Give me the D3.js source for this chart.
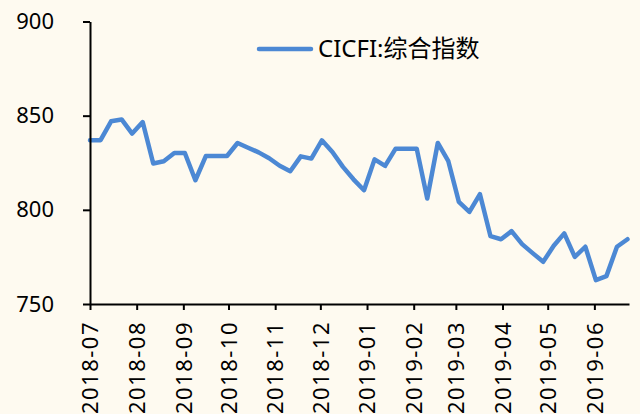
<!DOCTYPE html>
<html>
<head>
<meta charset="utf-8">
<script src="https://cdn.jsdelivr.net/npm/d3@7"></script>
<style>
html,body{margin:0;padding:0;background:#FEFAF0;}
svg{display:block;}
text{font-family:"Noto Sans","Noto Sans CJK SC",sans-serif;fill:#000;}
</style>
</head>
<body>
<svg id="chart" width="640" height="414"></svg>
<script>
const seriesName = "CICFI:综合指数";
const startDate = "2018-07-06";
const values = [837, 837, 847, 848, 840.5, 846.6, 824.6, 825.8, 830.2, 830.2,
  815.7, 828.6, 828.6, 828.6, 835.5, 833, 830.5, 827.4, 823.4, 820.5,
  828.4, 827.2, 836.9, 830.7, 822.8, 816.2, 810.4, 826.8, 823.3, 832.5,
  832.5, 832.5, 806, 835.5, 825.8, 804.2, 798.9, 808.3, 786, 784.4,
  788.7, 781.8, 777, 772.4, 780.9, 787.5, 775, 780.4, 762.7, 764.8,
  780.4, 784.4];
const yTicks = [750, 800, 850, 900];
const xTickLabels = ["2018-07","2018-08","2018-09","2018-10","2018-11","2018-12",
  "2019-01","2019-02","2019-03","2019-04","2019-05","2019-06"];

const parse = d3.timeParse("%Y-%m-%d");
const t0 = parse(startDate);
const data = values.map((v, i) => ({date: d3.timeDay.offset(t0, i * 7), value: v}));
const tickDates = xTickLabels.map((l, i) => d3.timeMonth.offset(t0, i));

const svg = d3.select("#chart");
const x = d3.scaleTime()
  .domain([t0, d3.timeDay.offset(t0, 358)])
  .range([90, 629]);
const y = d3.scaleLinear().domain([750, 900]).range([304, 21.5]);

// line
const line = d3.line().x(d => x(d.date)).y(d => y(d.value));
svg.append("path")
  .datum(data)
  .attr("d", line)
  .attr("fill", "none")
  .attr("stroke", "#4C88D4")
  .attr("stroke-width", 4.5)
  .attr("stroke-linejoin", "round")
  .attr("stroke-linecap", "round");

// y axis
const yAxis = svg.append("g")
  .attr("transform", "translate(90,0)")
  .call(d3.axisLeft(y).tickValues(yTicks).tickSize(7).tickPadding(29).tickSizeOuter(0));
yAxis.select(".domain").attr("stroke", "#000").attr("stroke-width", 2);
yAxis.selectAll(".tick line").attr("stroke", "#000").attr("stroke-width", 2);
yAxis.selectAll(".tick text").attr("font-size", 22).attr("font-family", null);

// x axis
const xAxis = svg.append("g")
  .attr("transform", "translate(0,304)")
  .call(d3.axisBottom(x).tickValues(tickDates)
    .tickFormat((d, i) => xTickLabels[i]).tickSize(6).tickSizeOuter(0));
xAxis.select(".domain").attr("stroke", "#000").attr("stroke-width", 2);
xAxis.selectAll(".tick line").attr("stroke", "#000").attr("stroke-width", 2);
xAxis.selectAll(".tick text")
  .attr("font-size", 22)
  .attr("font-family", null)
  .attr("letter-spacing", 1.5)
  .attr("text-anchor", "end")
  .attr("transform", "rotate(-90)")
  .attr("x", -17)
  .attr("y", 0)
  .attr("dy", "0.35em");

// legend
const lg = svg.append("g");
lg.append("line")
  .attr("x1", 259).attr("x2", 311).attr("y1", 49).attr("y2", 49)
  .attr("stroke", "#4C88D4").attr("stroke-width", 4.5).attr("stroke-linecap", "round");
lg.append("text")
  .attr("x", 318).attr("y", 57)
  .attr("font-size", 24)
  .text(seriesName);
</script>
</body>
</html>
